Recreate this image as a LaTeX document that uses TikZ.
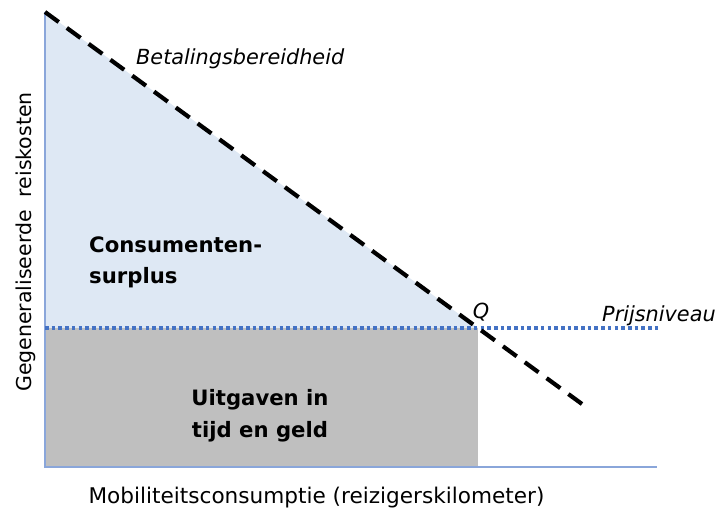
\documentclass[tikz,border=0pt]{standalone}
\usepackage{fontspec}
\setmainfont{DejaVu Sans}
\begin{document}
\begin{tikzpicture}[x=1pt,y=-1pt,
  axisline/.style={draw=axisblue,line width=1.8pt},
  demand/.style={draw=black,line width=4.2pt,dash pattern=on 17pt off 10pt},
  pricelevel/.style={draw=priceblue,line width=3.6pt,dash pattern=on 3.6pt off 3.1pt},
  lbl/.style={inner sep=0pt,font=\fontsize{20.5}{24}\selectfont},
  itlbl/.style={inner sep=0pt,font=\fontsize{20.8}{24}\selectfont\itshape},
  boldlbl/.style={inner sep=0pt,font=\fontsize{21.2}{32}\selectfont\bfseries},
]
\definecolor{axisblue}{HTML}{8AA6DA}
\definecolor{priceblue}{HTML}{4472C4}
\definecolor{surplusblue}{HTML}{DEE8F4}
\definecolor{costgray}{HTML}{BFBFBF}
\useasboundingbox (0,0) rectangle (717,508);
\fill[white] (0,0) rectangle (717,508);
% key points
\coordinate (top) at (45,12);
\coordinate (origin) at (45,467);
\coordinate (xend) at (657,467);
\coordinate (pleft) at (45,328);
\coordinate (q) at (478,328);
\coordinate (qbase) at (478,467);
\coordinate (pend) at (658,328);
\coordinate (dend) at (582,404);
% areas
\fill[surplusblue] (top) -- (pleft) -- (q) -- cycle;
\fill[costgray] (pleft) rectangle (qbase);
% axes
\draw[axisline] (top) -- (origin) -- (xend);
% lines
\draw[pricelevel] (pleft) -- (pend);
\draw[demand] (top) -- (dend);
% labels
\node[itlbl,anchor=base west] (wtp) at (136,65) {Betalingsbereidheid};
\node[itlbl,anchor=base] (qlbl) at (481,318) {Q};
\node[itlbl,anchor=base west] (plbl) at (602,321) {Prijsniveau};
\node[boldlbl,anchor=base west] (cs1) at (89,252) {Consumenten-};
\node[boldlbl,anchor=base west] (cs2) at (89,283) {surplus};
\node[boldlbl,anchor=base] (ut1) at (260,405) {Uitgaven in};
\node[boldlbl,anchor=base] (ut2) at (260,437) {tijd en geld};
\node[lbl,font=\fontsize{21.6}{24}\selectfont,anchor=base] (xlbl) at (316.5,503) {Mobiliteitsconsumptie (reizigerskilometer)};
\node[lbl,anchor=base,rotate=90] (ylbl) at (31,242) {Gegeneraliseerde\ \ reiskosten};
\end{tikzpicture}
\end{document}
